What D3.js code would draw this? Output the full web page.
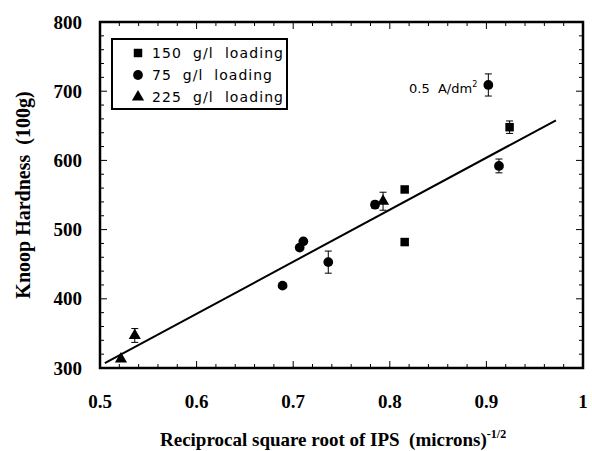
<!DOCTYPE html>
<html><head><meta charset="utf-8">
<script src="https://cdn.jsdelivr.net/npm/d3@7"></script>
<style>body{margin:0;background:#fff}svg{display:block}text{white-space:pre}</style>
</head><body>
<svg id="c" width="592" height="451"></svg>
<script>
// ---- data ----
const xTicks = [0.5, 0.6, 0.7, 0.8, 0.9, 1];
const xTickLabels = ["0.5", "0.6", "0.7", "0.8", "0.9", "1"];
const yTicks = [300, 400, 500, 600, 700, 800];
const yTickLabels = ["300", "400", "500", "600", "700", "800"];

const s150X = [0.8154, 0.8154, 0.924];
const s150Y = [558, 482, 648];
const s150E = [3, 5, 9];

const s75X = [0.689, 0.7067, 0.7105, 0.7363, 0.7847, 0.902, 0.913];
const s75Y = [419, 474, 483, 453, 536, 709, 592];
const s75E = [0, 0, 0, 16, 5, 16, 10];

const s225X = [0.5217, 0.536, 0.793];
const s225Y = [313, 347, 541];
const s225E = [0, 10, 13];

const fitX = [0.505, 0.972];
const fitY = [307, 658];

const legendLabels = ["150  g/l  loading", "75  g/l  loading", "225  g/l  loading"];

// ---- drawing ----
const svg = d3.select("#c");
const L = 100, R = 583, T = 22, B = 368;
const x = d3.scaleLinear().domain([0.5, 1]).range([L, R]);
const y = d3.scaleLinear().domain([300, 800]).range([B, T]);

const minorX = d3.range(0.5, 1.0001, 0.02);
const minorY = d3.range(300, 800.01, 20);

const g = svg.append("g");
function isMajorX(v){return xTicks.some(t=>Math.abs(t-v)<1e-6);}
function isMajorY(v){return yTicks.some(t=>Math.abs(t-v)<1e-6);}
minorX.forEach(v=>{
  const len = isMajorX(v)?7:4;
  g.append("line").attr("x1",x(v)).attr("x2",x(v)).attr("y1",B).attr("y2",B-len).attr("stroke","#000").attr("stroke-width",1);
  g.append("line").attr("x1",x(v)).attr("x2",x(v)).attr("y1",T).attr("y2",T+len).attr("stroke","#000").attr("stroke-width",1);
});
minorY.forEach(v=>{
  const len = isMajorY(v)?7:4;
  g.append("line").attr("x1",L).attr("x2",L+len).attr("y1",y(v)).attr("y2",y(v)).attr("stroke","#000").attr("stroke-width",1);
  g.append("line").attr("x1",R).attr("x2",R-len).attr("y1",y(v)).attr("y2",y(v)).attr("stroke","#000").attr("stroke-width",1);
});
g.append("rect").attr("x",L).attr("y",T).attr("width",R-L).attr("height",B-T)
  .attr("fill","none").attr("stroke","#000").attr("stroke-width",2.5);

const tickFont = "'Liberation Serif', 'Times New Roman', serif";
xTicks.forEach((v,i)=>{
  g.append("text").attr("x",x(v)).attr("y",408).attr("text-anchor","middle")
   .attr("font-family",tickFont).attr("font-weight","bold").attr("font-size",19).text(xTickLabels[i]);
});
yTicks.forEach((v,i)=>{
  g.append("text").attr("x",82).attr("y",y(v)+6.5).attr("text-anchor","end")
   .attr("font-family",tickFont).attr("font-weight","bold").attr("font-size",19).text(yTickLabels[i]);
});

svg.append("text").attr("transform","translate(30,195) rotate(-90)").attr("text-anchor","middle")
  .attr("font-family",tickFont).attr("font-weight","bold").attr("font-size",20).text("Knoop Hardness  (100g)");
const xt = svg.append("text").attr("x",160).attr("y",446)
  .attr("font-family",tickFont).attr("font-weight","bold").attr("font-size",19);
xt.append("tspan").text("Reciprocal square root of IPS  (microns)");
xt.append("tspan").attr("dy",-8).attr("font-size",12).text("-1/2");

const line = d3.line().x(d=>x(d[0])).y(d=>y(d[1]));
svg.append("path").datum(d3.zip(fitX, fitY)).attr("d",line)
  .attr("fill","none").attr("stroke","#000").attr("stroke-width",2);

const sym = {
  square: d3.symbol().type(d3.symbolSquare).size(72),
  circle: d3.symbol().type(d3.symbolCircle).size(75),
  triangle: d3.symbol().type(d3.symbolTriangle).size(64)
};
function drawSeries(xs, ys, es, shape){
  const data = d3.zip(xs, ys, es);
  const gg = svg.append("g");
  data.forEach(d=>{
    if (d[2] > 0) {
      const y1 = y(d[1]-d[2]), y2 = y(d[1]+d[2]), cx = x(d[0]);
      gg.append("line").attr("x1",cx).attr("x2",cx).attr("y1",y1).attr("y2",y2).attr("stroke","#000").attr("stroke-width",1);
      [y1,y2].forEach(yy=>gg.append("line").attr("x1",cx-3.5).attr("x2",cx+3.5).attr("y1",yy).attr("y2",yy).attr("stroke","#000").attr("stroke-width",1));
    }
    gg.append("path").attr("d",sym[shape]()).attr("transform",`translate(${x(d[0])},${y(d[1])})`).attr("fill","#000");
  });
}
drawSeries(s150X, s150Y, s150E, "square");
drawSeries(s75X, s75Y, s75E, "circle");
drawSeries(s225X, s225Y, s225E, "triangle");

const ann = svg.append("text").attr("x",409).attr("y",93)
  .attr("font-family","'DejaVu Sans', sans-serif").attr("font-size",13);
ann.append("tspan").text("0.5  A/dm");
ann.append("tspan").attr("dy",-6).attr("font-size",8).text("2");

const lg = svg.append("g");
lg.append("rect").attr("x",112).attr("y",39).attr("width",175).attr("height",70)
  .attr("fill","#fff").attr("stroke","#000").attr("stroke-width",2);
const legShapes = ["square","circle","triangle"];
const legLens = [131, 120, 131];
legendLabels.forEach((lab,i)=>{
  const ry = 53 + i*22;
  lg.append("path").attr("d",sym[legShapes[i]]()).attr("transform",`translate(138,${ry})`).attr("fill","#000");
  lg.append("text").attr("x",152).attr("y",ry+5).attr("font-family","'DejaVu Sans', sans-serif")
    .attr("font-size",14).attr("textLength",legLens[i]).attr("lengthAdjust","spacing").text(lab);
});
</script>
</body></html>
